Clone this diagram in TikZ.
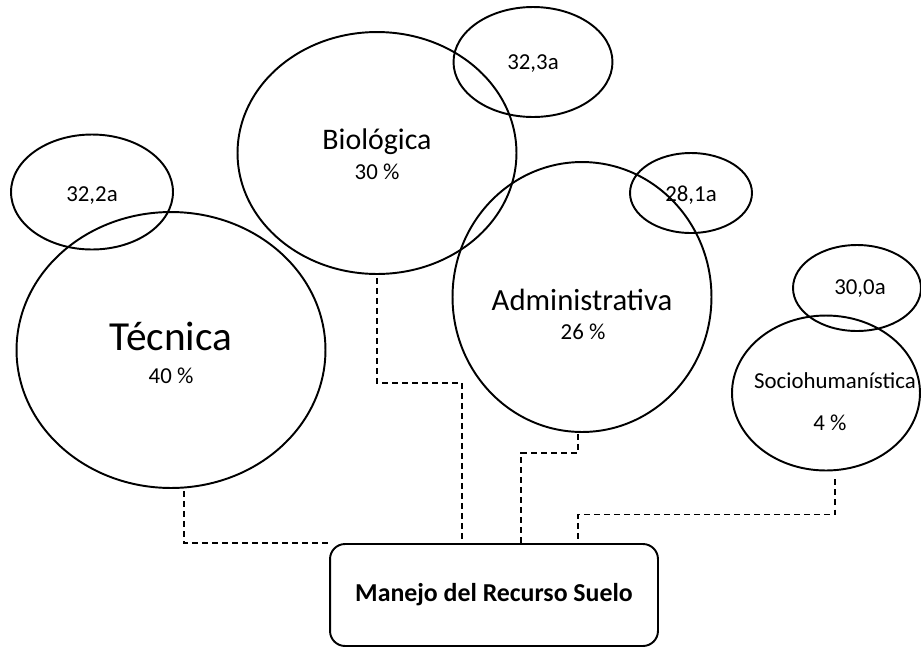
\documentclass[tikz,border=0pt]{standalone}
\usepackage{fontspec}
\setmainfont{Carlito}
\usetikzlibrary{shapes.geometric}
\begin{document}
\begin{tikzpicture}[x=0.02cm, y=-0.02cm,
    area/.style={draw, ellipse, line width=1.1pt, inner sep=0pt},
    nota/.style={font=\fontsize{13}{15}\selectfont, anchor=base},
    titulo/.style={font=\fontsize{17}{20}\selectfont, anchor=base},
    link/.style={line width=0.8pt, dash pattern=on 3.4pt off 2.3pt}]
    \useasboundingbox (0,0) rectangle (921,647);

    \node[area, minimum width=6.18cm, minimum height=5.52cm] (tec) at (171,350) {};
    \node[area, minimum width=3.24cm, minimum height=2.3cm] (tec-val) at (92,192) {};
    \node[area, minimum width=5.58cm, minimum height=4.84cm] (bio) at (377,153) {};
    \node[area, minimum width=3.18cm, minimum height=2.2cm] (bio-val) at (533,62) {};
    \node[area, minimum width=5.18cm, minimum height=5.4cm] (adm) at (582,297) {};
    \node[area, minimum width=2.44cm, minimum height=1.6cm] (adm-val) at (691,193) {};
    \node[area, minimum width=3.76cm, minimum height=3.1cm] (soc) at (826,393) {};
    \node[area, minimum width=2.56cm, minimum height=1.72cm] (soc-val) at (857,288) {};

    \node[font=\fontsize{23.5}{28}\selectfont, anchor=base] (tec-nom) at (171,350) {Técnica};
    \node[nota] (tec-pct) at (171,383) {40 \%};
    \node[titulo] (bio-nom) at (377,149) {Biológica};
    \node[nota] (bio-pct) at (377,179) {30 \%};
    \node[titulo, font=\fontsize{17.5}{20}\selectfont] (adm-nom) at (582,310) {Administrativa};
    \node[nota] (adm-pct) at (583,339) {26 \%};
    \node[nota] (soc-nom) at (835,388) {Sociohumanística};
    \node[nota] (soc-pct) at (830,430) {4 \%};

    \node[nota] (tec-num) at (92,201) {32,2a};
    \node[nota] (bio-num) at (533,69) {32,3a};
    \node[nota] (adm-num) at (691,201) {28,1a};
    \node[nota] (soc-num) at (860,294) {30,0a};

    \node[draw, rounded corners=0.3cm, line width=1.1pt, minimum width=6.56cm, minimum height=2.04cm,
        font=\fontsize{14.7}{17}\selectfont\bfseries] (suelo) at (494,595) {Manejo del Recurso Suelo};

    % lineas punteadas hacia el recuadro
    \draw[link] ([shift={(13,2)}]tec.south) |- (suelo.north west);
    \draw[link] ([shift={(0,3)}]bio.south) -- ++(0,105) -| ([shift={(-32,0)}]suelo.north);
    \draw[link] ([shift={(-4,1)}]adm.south) -- ++(0,19) -| ([shift={(27,0)}]suelo.north);
    \draw[link] ([shift={(9,8)}]soc.south) -- ++(0,35) -| ([shift={(84,0)}]suelo.north);
\end{tikzpicture}
\end{document}
